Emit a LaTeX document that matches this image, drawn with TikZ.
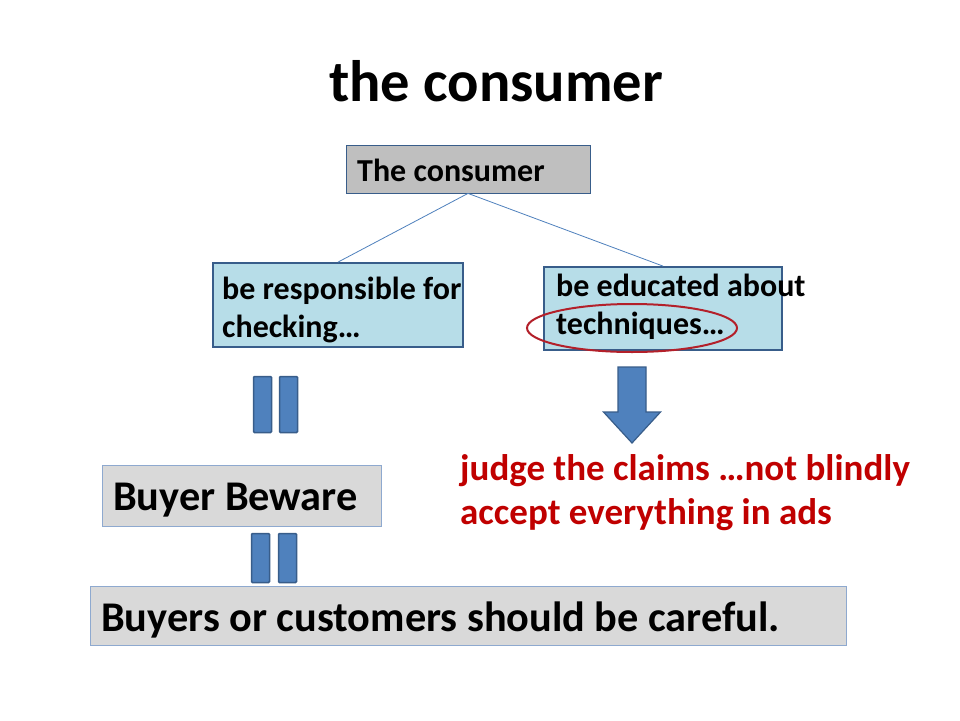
\documentclass[tikz,border=0pt]{standalone}
\usepackage{fontspec}
\setmainfont{Carlito}
\usetikzlibrary{shapes.geometric,calc}
\definecolor{boxgray}{HTML}{BFBFBF}
\definecolor{lightgray}{HTML}{D9D9D9}
\definecolor{lightblue}{HTML}{B7DDE8}
\definecolor{darkblue}{HTML}{385D8A}
\definecolor{midblue}{HTML}{4F81BD}
\definecolor{paleblue}{HTML}{8EA9CF}
\definecolor{darkred}{HTML}{C00000}
\definecolor{ellred}{HTML}{B3202A}
\tikzset{
  x=1pt, y=-1pt,
  txt/.style={font=\bfseries\fontsize{#1}{#1}\selectfont, inner sep=0pt},
  headbox/.style={draw=darkblue, line width=0.8pt, fill=boxgray, rectangle, inner sep=0pt},
  bluebox/.style={draw=darkblue, line width=1.8pt, fill=lightblue, rectangle, inner sep=0pt},
  graybox/.style={draw=paleblue, line width=0.9pt, fill=lightgray, rectangle, inner sep=0pt},
  bar/.style={draw=darkblue, line width=1.5pt, fill=midblue, rectangle, inner sep=0pt, rounded corners=1pt},
  link/.style={draw=midblue, line width=0.8pt},
}
\begin{document}
\begin{tikzpicture}
\useasboundingbox[fill=white] (0,0) rectangle (960,720);
% title
\node[txt=58.5, anchor=base] (title) at (496,101) {the consumer};
% top box
\node[headbox, minimum width=244pt, minimum height=48pt] (top) at (468,169) {};
\node[txt=32, anchor=base west] (toptxt) at (357,181) {The consumer};
% second row boxes
\node[bluebox, minimum width=250pt, minimum height=84pt] (b1) at (338,305) {};
\node[bluebox, minimum width=238pt, minimum height=83pt] (b2) at (663,308.5) {};
\node[txt=32, anchor=base west] (b1t1) at (222,299) {be responsible for};
\node[txt=32, anchor=base west] (b1t2) at (222,337) {checking\dots};
\node[txt=32, anchor=base west] (b2t1) at (556,296) {be educated about};
\node[txt=32, anchor=base west] (b2t2) at (556,334) {techniques\dots};
\draw[link] (top.south) -- (b1.north);
\draw[link] (top.south) -- (b2.north);
% ellipse
\node[draw=ellred, line width=2pt, ellipse, minimum width=210pt, minimum height=48pt, inner sep=0pt] (ell) at (632,328) {};
% bars 1
\node[bar, minimum width=18pt, minimum height=56pt] (p1a) at (262.5,404.5) {};
\node[bar, minimum width=18pt, minimum height=56pt] (p1b) at (288.5,404.5) {};
% down arrow
\coordinate (arr) at (632,367);
\draw[draw=darkblue, line width=1.2pt, fill=midblue, line join=miter]
  ($(arr)+(-14,0)$) -- ($(arr)+(14,0)$) -- ($(arr)+(14,45)$) -- ($(arr)+(28.5,45)$)
  -- ($(arr)+(0,76)$) -- ($(arr)+(-28.5,45)$) -- ($(arr)+(-14,45)$) -- cycle;
% red text
\node[txt=37, anchor=base west, text=darkred] (red1) at (460,480) {judge the claims \dots not blindly};
\node[txt=37, anchor=base west, text=darkred] (red2) at (460,524) {accept everything in ads};
% buyer beware
\node[graybox, minimum width=279pt, minimum height=61pt] (bb) at (241.5,495.5) {};
\node[txt=42.3, anchor=base west] (bbt) at (113,510) {Buyer Beware};
% bars 2
\node[bar, minimum width=18pt, minimum height=49pt] (p2a) at (260.5,558) {};
\node[bar, minimum width=18pt, minimum height=49pt] (p2b) at (287.5,558) {};
% last box
\node[graybox, minimum width=756pt, minimum height=59pt] (last) at (468,615.5) {};
\node[txt=42.3, anchor=base west] (lastt) at (101,631) {Buyers or customers should be careful.};
\end{tikzpicture}
\end{document}
